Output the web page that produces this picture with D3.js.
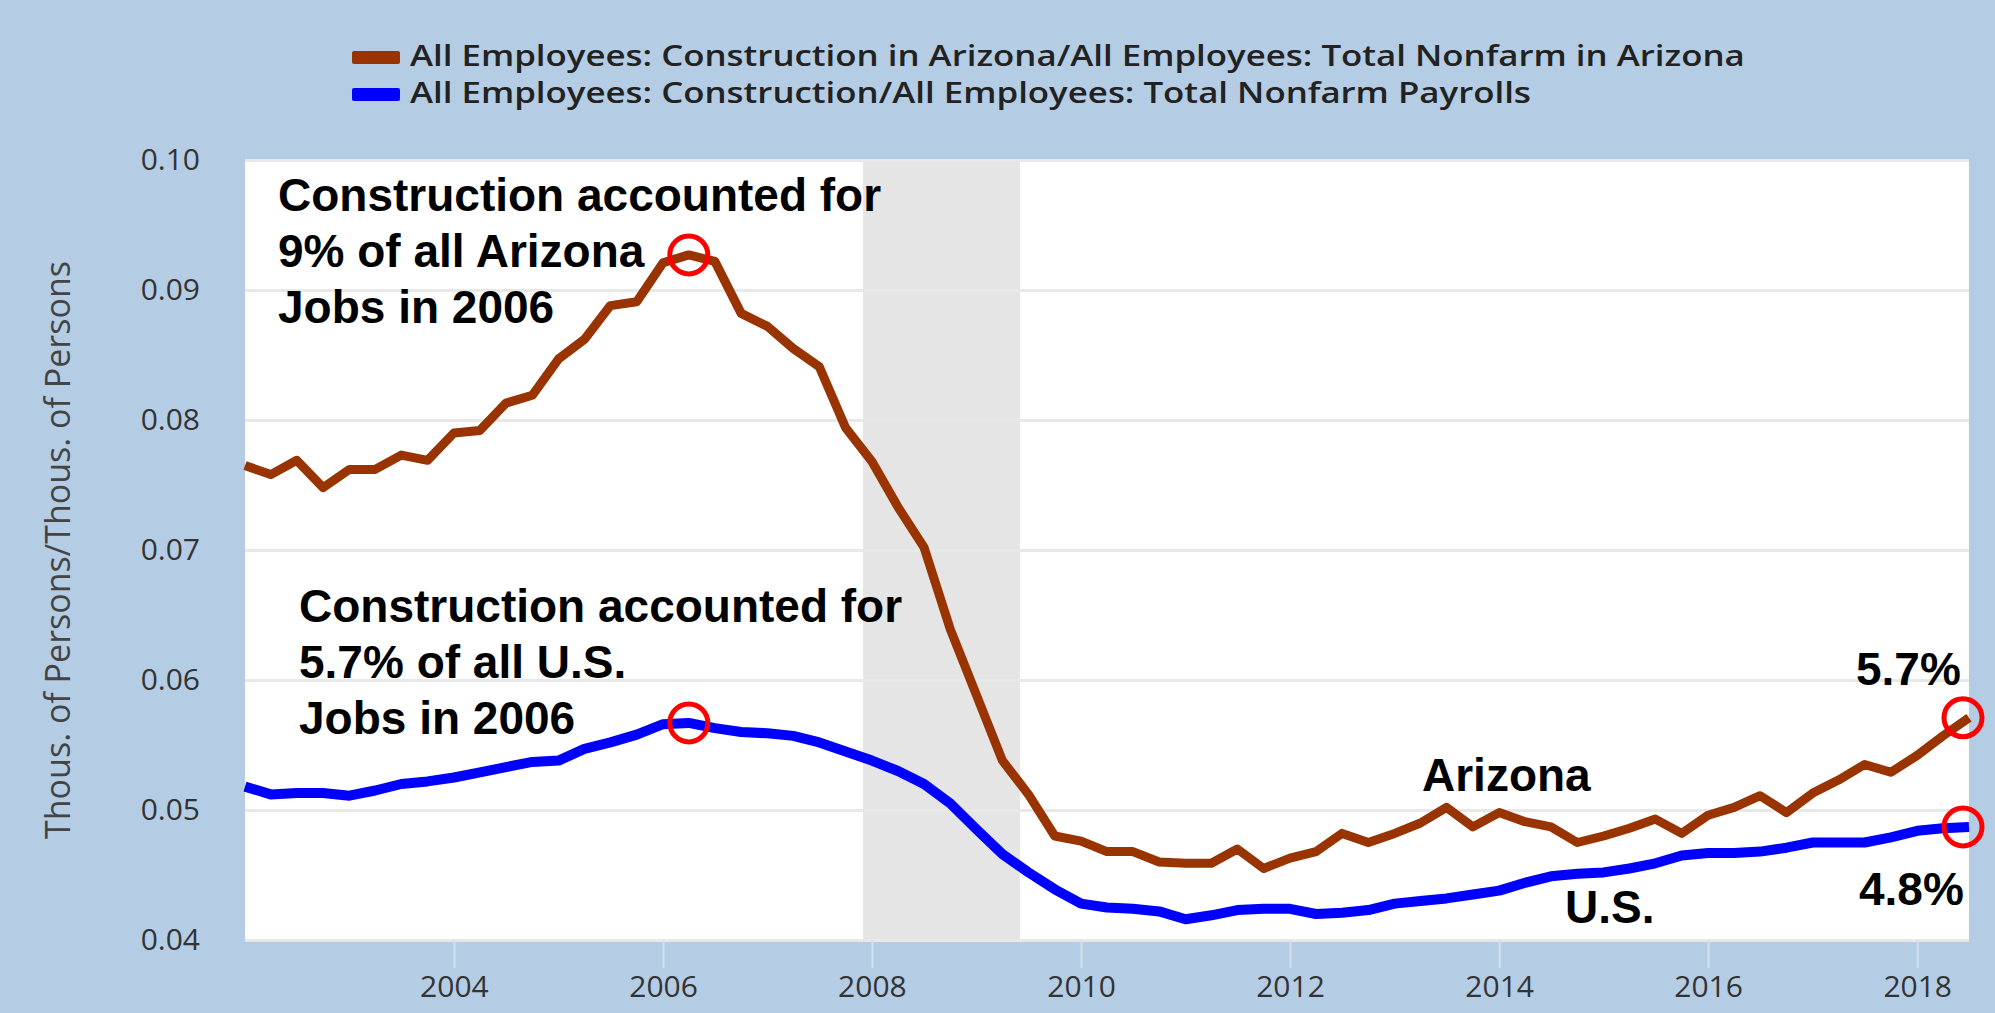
<!DOCTYPE html>
<html>
<head>
<meta charset="utf-8">
<script src="https://cdn.jsdelivr.net/npm/d3@7"></script>
<style>
  body { margin: 0; background: #b4cde4; }
  svg { display: block; }
</style>
</head>
<body>
<div id="graph"></div>
<script>
// Construction share of all jobs, quarterly, 2002Q1 - 2018Q3
let firstQuarter = "2002-01-01";

let arizona = [
  0.0765, 0.0758, 0.0769, 0.0748,
  0.0762, 0.0762, 0.0773, 0.0769,
  0.0790, 0.0792, 0.0813, 0.0819,
  0.0847, 0.0862, 0.0888, 0.0891,
  0.0921, 0.0927, 0.0922, 0.0882,
  0.0872, 0.0855, 0.0841, 0.0794,
  0.0768, 0.0733, 0.0702, 0.0639,
  0.0588, 0.0538, 0.0512, 0.0480,
  0.0476, 0.0468, 0.0468, 0.0460,
  0.0459, 0.0459, 0.0470, 0.0455,
  0.0463, 0.0468, 0.0482, 0.0475,
  0.0482, 0.0490, 0.0502, 0.0487,
  0.0498, 0.0491, 0.0487, 0.0475,
  0.0480, 0.0486, 0.0493, 0.0482,
  0.0496, 0.0502, 0.0511, 0.0498,
  0.0513, 0.0523, 0.0535, 0.0529,
  0.0542, 0.0557, 0.0571
];

let us = [
  0.0518, 0.0512, 0.0513, 0.0513,
  0.0511, 0.0515, 0.0520, 0.0522,
  0.0525, 0.0529, 0.0533, 0.0537,
  0.0538, 0.0547, 0.0552, 0.0558,
  0.0566, 0.0567, 0.0563, 0.0560,
  0.0559, 0.0557, 0.0552, 0.0545,
  0.0538, 0.0530, 0.0520, 0.0505,
  0.0485, 0.0466, 0.0452, 0.0439,
  0.0428, 0.0425, 0.0424, 0.0422,
  0.0416, 0.0419, 0.0423, 0.0424,
  0.0424, 0.0420, 0.0421, 0.0423,
  0.0428, 0.0430, 0.0432, 0.0435,
  0.0438, 0.0444, 0.0449, 0.0451,
  0.0452, 0.0455, 0.0459, 0.0465,
  0.0467, 0.0467, 0.0468, 0.0471,
  0.0475, 0.0475, 0.0475, 0.0479,
  0.0484, 0.0486, 0.0487
];

let yTicks = [0.04, 0.05, 0.06, 0.07, 0.08, 0.09, 0.10];
let xTickYears = [2004, 2006, 2008, 2010, 2012, 2014, 2016, 2018];
let recession = ["2007-12-01", "2009-06-01"];
let xDomain = ["2002-01-01", "2018-07-01"];

let legendLabels = [
  "All Employees: Construction in Arizona/All Employees: Total Nonfarm in Arizona",
  "All Employees: Construction/All Employees: Total Nonfarm Payrolls"
];
let yTitle = "Thous. of Persons/Thous. of Persons";

// highlighted quarters (index into the series)
let peakIndex = 17;
let lastIndex = arizona.length - 1;

let parse = d3.timeParse("%Y-%m-%d");
let start = parse(firstQuarter);
let dates = arizona.map(function (d, i) { return d3.timeMonth.offset(start, 3 * i); });

let width = 1995, height = 1013;
let plot = { left: 245, right: 1969, top: 160, bottom: 940 };

let svg = d3.select("#graph").append("svg")
  .attr("width", width)
  .attr("height", height);

svg.append("rect")
  .attr("width", width)
  .attr("height", height)
  .attr("fill", "#b4cde4");

let xScale = d3.scaleTime()
  .domain(xDomain.map(parse))
  .range([plot.left, plot.right]);

let yScale = d3.scaleLinear()
  .domain([0.04, 0.10])
  .range([plot.bottom, plot.top]);

// plot background
svg.append("rect")
  .attr("x", plot.left)
  .attr("y", plot.top)
  .attr("width", plot.right - plot.left)
  .attr("height", plot.bottom - plot.top)
  .attr("fill", "#ffffff");

// recession band
svg.append("rect")
  .attr("x", xScale(parse(recession[0])))
  .attr("y", plot.top)
  .attr("width", xScale(parse(recession[1])) - xScale(parse(recession[0])))
  .attr("height", plot.bottom - plot.top)
  .attr("fill", "#e5e5e5");

// y axis with gridlines
let yAxis = d3.axisLeft(yScale)
  .tickValues(yTicks)
  .tickFormat(d3.format(".2f"))
  .tickSize(-(plot.right - plot.left))
  .tickPadding(45);

let yG = svg.append("g")
  .attr("transform", "translate(" + plot.left + ",0)")
  .call(yAxis);
yG.select(".domain").remove();
yG.selectAll(".tick line")
  .attr("stroke", "#e8e8e8")
  .attr("stroke-width", 3);
yG.selectAll(".tick text")
  .attr("font-family", "'Open Sans', sans-serif")
  .attr("font-size", 30)
  .attr("fill", "#333");

// x axis
let xAxis = d3.axisBottom(xScale)
  .tickValues(xTickYears.map(function (y) { return new Date(y, 0, 1); }))
  .tickFormat(d3.timeFormat("%Y"))
  .tickSize(28)
  .tickPadding(8);

let xG = svg.append("g")
  .attr("transform", "translate(0," + plot.bottom + ")")
  .call(xAxis);
xG.select(".domain").remove();
xG.selectAll(".tick line")
  .attr("stroke", "#d3e1ef")
  .attr("stroke-width", 2);
xG.selectAll(".tick text")
  .attr("font-family", "'Open Sans', sans-serif")
  .attr("font-size", 30)
  .attr("fill", "#333");

// y title
svg.append("text")
  .attr("transform", "translate(70," + (plot.top + plot.bottom) / 2 + ") rotate(-90)")
  .attr("text-anchor", "middle")
  .attr("font-family", "'Open Sans', sans-serif")
  .attr("font-size", 34)
  .attr("fill", "#444")
  .text(yTitle);

// lines
let line = d3.line()
  .x(function (d, i) { return xScale(dates[i]); })
  .y(function (d) { return yScale(d); });

svg.append("path")
  .datum(us)
  .attr("d", line)
  .attr("fill", "none")
  .attr("stroke", "#0000ff")
  .attr("stroke-width", 10)
  .attr("stroke-linejoin", "round");

svg.append("path")
  .datum(arizona)
  .attr("d", line)
  .attr("fill", "none")
  .attr("stroke", "#993300")
  .attr("stroke-width", 9)
  .attr("stroke-linejoin", "round");

// red circles (end ones pulled slightly inside the plot, like the original)
let marks = [
  [peakIndex, arizona, 0], [peakIndex, us, 0],
  [lastIndex, arizona, -6], [lastIndex, us, -6]
];
svg.selectAll("circle.mark")
  .data(marks)
  .enter()
  .append("circle")
  .attr("class", "mark")
  .attr("cx", function (d) { return xScale(dates[d[0]]) + d[2]; })
  .attr("cy", function (d) { return yScale(d[1][d[0]]); })
  .attr("r", 19)
  .attr("fill", "none")
  .attr("stroke", "#ff0000")
  .attr("stroke-width", 5);

// legend (the original font is wider, so stretch the text horizontally)
let legendStretch = 1.244;
let legend = svg.append("g");
legendLabels.forEach(function (label, i) {
  legend.append("rect")
    .attr("x", 352)
    .attr("y", 51 + i * 37)
    .attr("width", 48)
    .attr("height", 13)
    .attr("rx", 2)
    .attr("fill", i === 0 ? "#993300" : "#0000ff");
  let t = legend.append("text")
    .attr("x", 410)
    .attr("y", 66 + i * 37)
    .attr("font-family", "'Open Sans', sans-serif")
    .attr("font-weight", 600)
    .attr("font-size", 28)
    .attr("fill", "#222")
    .text(label);
  t.attr("textLength", t.node().getComputedTextLength() * legendStretch)
    .attr("lengthAdjust", "spacingAndGlyphs");
});

// annotations
let notes = [
  { x: 278, y: 211, lines: ["Construction accounted for", "9% of all Arizona", "Jobs in 2006"] },
  { x: 299, y: 622, lines: ["Construction accounted for", "5.7% of all U.S.", "Jobs in 2006"] },
  { x: 1422, y: 791, lines: ["Arizona"] },
  { x: 1565, y: 923, lines: ["U.S."] },
  { x: 1856, y: 685, lines: ["5.7%"] },
  { x: 1859, y: 905, lines: ["4.8%"] }
];
notes.forEach(function (n) {
  let t = svg.append("text")
    .attr("font-family", "'Liberation Sans', Arial, sans-serif")
    .attr("font-weight", "bold")
    .attr("font-size", 46)
    .attr("fill", "#000");
  n.lines.forEach(function (l, i) {
    t.append("tspan")
      .attr("x", n.x)
      .attr("y", n.y + i * 56)
      .text(l);
  });
});
</script>
</body>
</html>
